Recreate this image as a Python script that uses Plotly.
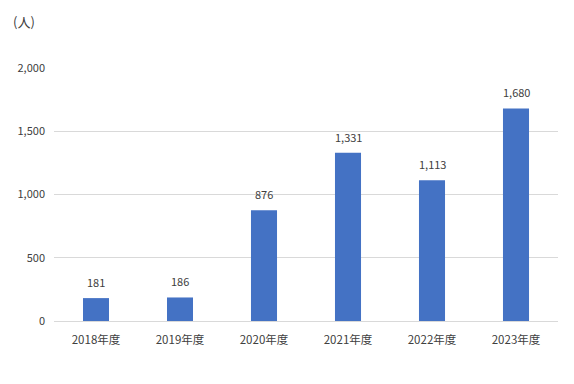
import plotly.graph_objects as go

categories = ["2018年度", "2019年度", "2020年度", "2021年度", "2022年度", "2023年度"]
values = [181, 186, 876, 1331, 1113, 1680]
y_ticks = [0, 500, 1000, 1500, 2000]
y_tick_labels = ["0", "500", "1,000", "1,500", "2,000"]

FONT = "Noto Sans CJK JP, Noto Sans, sans-serif"
TXT = "#404040"

fig = go.Figure()
fig.add_trace(go.Bar(
    x=categories, y=values,
    marker=dict(color="#4472C4", line=dict(width=0)),
    hoverinfo="skip",
))

for c, v in zip(categories, values):
    fig.add_annotation(x=c, y=v, text=f"{v:,}", showarrow=False,
                       yanchor="bottom", yshift=6,
                       font=dict(family=FONT, size=11, color=TXT))

fig.add_annotation(xref="paper", yref="paper", x=-54/504 + 11/504, y=1 + (68-22)/253,
                   xanchor="left", yanchor="middle", text="(人)", showarrow=False,
                   font=dict(family=FONT, size=13, color=TXT))

fig.update_layout(
    width=574, height=384,
    margin=dict(l=54, r=16, t=68, b=63),
    paper_bgcolor="white", plot_bgcolor="white",
    bargap=0.69,
    showlegend=False,
    font=dict(family=FONT, size=11, color=TXT),
)
fig.update_xaxes(showgrid=False, showline=True, linecolor="#d9d9d9", linewidth=1,
                 ticks="", tickfont=dict(family=FONT, size=11.5, color=TXT),
                 ticklabelstandoff=8)
fig.update_yaxes(range=[0, 2000], tickvals=y_ticks, ticktext=y_tick_labels,
                 showgrid=True, gridcolor="#d9d9d9", gridwidth=1, zeroline=False,
                 showline=False, ticks="", tickfont=dict(family=FONT, size=11, color=TXT),
                 ticklabelstandoff=8)

fig.write_html("out.html")
